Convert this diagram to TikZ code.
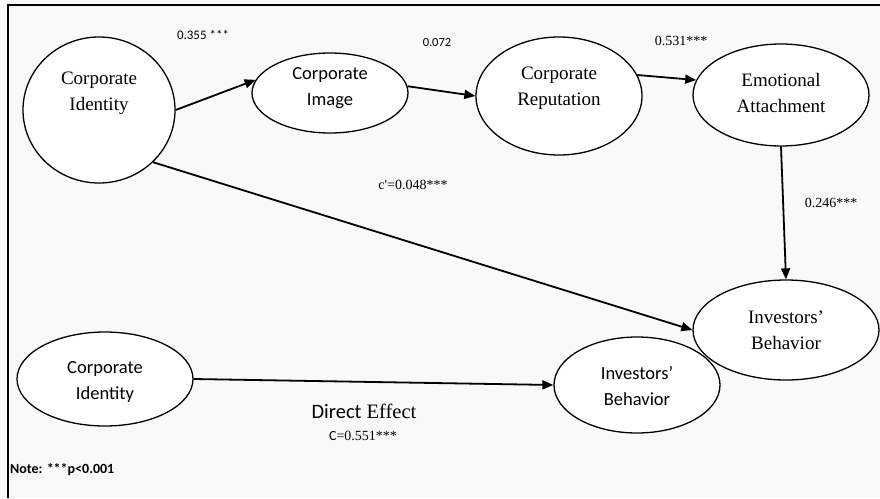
\documentclass[tikz,border=0pt]{standalone}
\usepackage{fontspec}
\setmainfont{Liberation Serif}
\newfontfamily\calfont{Carlito}
\usetikzlibrary{shapes.geometric,arrows.meta}
\definecolor{bgcol}{HTML}{F9F9F9}
\begin{document}
\begin{tikzpicture}[x=1pt,y=-1pt,
  ell/.style={draw, line width=1.3pt, fill=white, ellipse, inner sep=0pt},
  arr/.style={line width=1.8pt, -{Triangle[length=11pt,width=9pt]}},
  tms/.style={font=\fontsize{19}{26}\selectfont, align=center, inner sep=0pt},
  clb/.style={font=\calfont\fontsize{18.5}{26}\selectfont, align=center, inner sep=0pt},
  lblc/.style={font=\calfont\fontsize{13}{15}\selectfont, inner sep=0pt},
  lblt/.style={font=\fontsize{14}{16}\selectfont, inner sep=0pt}]
\useasboundingbox (0,0) rectangle (880,498);
\fill[bgcol] (0,0) rectangle (880,498);
\draw[line width=2.5pt] (8,498) -- (8,5) -- (880,5);

% ellipses
\node[ell, minimum width=152pt, minimum height=146pt] (ci) at (99,110) {};
\node[ell, minimum width=156pt, minimum height=80pt] (cim) at (330,93) {};
\node[ell, minimum width=166pt, minimum height=118pt] (crep) at (559,96) {};
\node[ell, minimum width=176pt, minimum height=102pt] (ea) at (781,95) {};
\node[ell, minimum width=186pt, minimum height=100pt] (ib) at (786,330) {};
\node[ell, minimum width=166pt, minimum height=96pt] (ibb) at (637,385) {};
\node[ell, minimum width=176pt, minimum height=94pt] (cib) at (105,379) {};

% texts
\node[tms] (cit) at (99,93) {Corporate\\Identity};
\node[clb] (cimt) at (330,88) {Corporate\\Image};
\node[tms] (crept) at (559,88) {Corporate\\Reputation};
\node[tms] (eat) at (781,93) {Emotional\\Attachment};
\node[tms] (ibt) at (786,330) {Investors’\\Behavior};
\node[clb] (ibbt) at (637,386) {Investors’\\Behavior};
\node[clb] (cibt) at (105,382) {Corporate\\Identity};

% arrows
\draw[arr] (ci.east) -- (cim.170);
\draw[arr] (cim.5) -- (crep.west);
\draw[arr] (crep.15) -- (ea.170);
\draw[arr] (ea.south) -- (ib.north);
\draw[arr] (ci.-44) -- (ib.west);
\draw[arr] (cib.east) -- (ibb.west);

% labels
\node[lblc] (l1) at (203,35) {0.355 ***};
\node[lblc, font=\calfont\fontsize{12.5}{15}\selectfont] (l2) at (437,42) {0.072};
\node[lblt] (l3) at (681,41) {0.531***};
\node[lblt] (l4) at (413,185) {c\textquotesingle=0.048***};
\node[lblt] (l5) at (831,203) {0.246***};
\node[font=\fontsize{20.5}{22}\selectfont, inner sep=0pt] (de) at (364,411) {{\calfont Direct} Effect};
\node[lblt] (c) at (363,436) {{\calfont C}=0.551***};
\node[font=\calfont\bfseries\fontsize{14}{16}\selectfont, inner sep=0pt, anchor=west] (note) at (10,470) {Note: ***p<0.001};
\end{tikzpicture}
\end{document}
